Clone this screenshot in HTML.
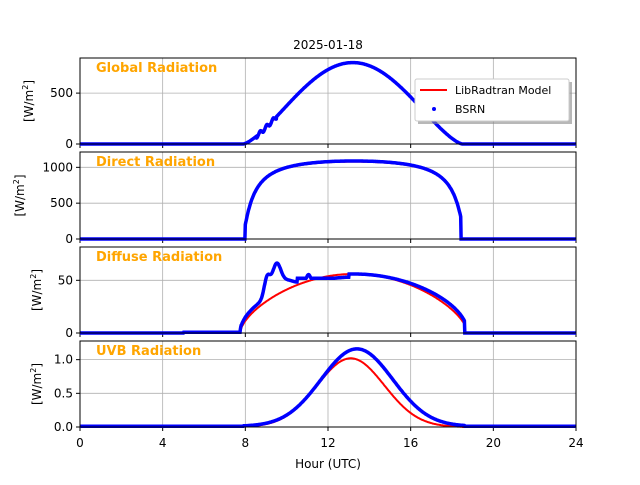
<!DOCTYPE html>
<html><head><meta charset="utf-8"><style>
body{margin:0;background:#fff}
svg{font-family:"DejaVu Sans","Liberation Sans",sans-serif}
</style></head><body>
<svg id="s" width="640" height="480" xmlns="http://www.w3.org/2000/svg">
<text x="328" y="49" font-size="12" text-anchor="middle">2025-01-18</text>
<g id="g"></g>
<g>
<rect x="418" y="82" width="154" height="42" fill="#888" opacity="0.6"/>
<rect x="415" y="79" width="154" height="42" fill="#fff" stroke="#ccc" rx="2"/>
<line x1="420" y1="90" x2="447" y2="90" stroke="red" stroke-width="2"/>
<text x="455" y="94" font-size="11">LibRadtran Model</text>
<circle cx="434" cy="109" r="2" fill="blue"/>
<text x="455" y="113" font-size="11">BSRN</text>
</g>
</svg>
<script>
var X0=80,X1=576,g=document.getElementById('g'),h='';
function px(t){return X0+(X1-X0)*t/24;}
function s(t){var v=Math.sin(Math.PI*(t-7.9)/10.6);return (t<7.9||t>18.5)?0:Math.max(0,v);}
function q2(t){return (t<7.75||t>18.75)?0:Math.sin(Math.PI*(t-7.75)/11);}
var P=[
 {top:58,bot:144,max:845,ticks:[0,500],lab:['0','500'],title:'Global Radiation',
  m:function(t){return 800*Math.pow(s(t),1.4);},
  b:function(t){var v=800*Math.pow(s(t),1.4);if(t>8.5&&t<9.5)v-=20*Math.sin(t*20);return v;}},
 {top:152,bot:239,max:1214,ticks:[0,500,1000],lab:['0','500','1000'],title:'Direct Radiation',
  m:function(t){var q=q2(t);return (t<7.98||t>18.42||q<=0)?0:1230*Math.exp(-0.13/q);},
  b:function(t){var q=q2(t);return (t<7.98||t>18.42||q<=0)?0:1240*Math.exp(-0.13/q);}},
 {top:247,bot:333,max:81.6,ticks:[0,50],lab:['0','50'],title:'Diffuse Radiation',
  m:function(t){return 56*Math.pow(q2(t),0.6)*(t>18.6?0:1);},
  b:function(t){var q=q2(t);var v=56*Math.pow(q,0.5)*(t>18.6?0:1);
   if(t>8.4&&t<11.5)v+=26*Math.exp(-Math.pow((t-9.5)/0.3,2))+18*Math.exp(-Math.pow((t-9.05)/0.2,2))+8*Math.exp(-Math.pow((t-11.05)/0.15,2))+6*Math.exp(-Math.pow((t-10)/0.4,2));
   if(t>10.5&&t<13)v=Math.max(v-3,52);
   if(t<7.8&&t>5)v+=0.8;return v;}},
 {top:341,bot:427,max:1.277,ticks:[0,0.5,1.0],lab:['0.0','0.5','1.0'],title:'UVB Radiation',
  m:function(t){return 1.02*Math.exp(-Math.pow((t-13.1)/2.3,2))*(t>7.9&&t<18.5?1:0);},
  b:function(t){return 1.15*Math.exp(-Math.pow((t-13.4)/2.45,2))*(t>7.9&&t<18.6?1:0)+0.01;}}
];
P.forEach(function(p,i){
 function py(v){return p.bot-(p.bot-p.top)*v/p.max;}
 for(var k=4;k<24;k+=4)h+='<line x1="'+px(k)+'" y1="'+p.top+'" x2="'+px(k)+'" y2="'+p.bot+'" stroke="#b0b0b0" stroke-width="0.8"/>';
 p.ticks.forEach(function(v,j){var y=py(v);
  if(j>0)h+='<line x1="'+X0+'" y1="'+y+'" x2="'+X1+'" y2="'+y+'" stroke="#b0b0b0" stroke-width="0.8"/>';
  h+='<line x1="'+(X0-4)+'" y1="'+y+'" x2="'+X0+'" y2="'+y+'" stroke="#000"/>';
  h+='<text x="'+(X0-7)+'" y="'+(y+4)+'" font-size="12" text-anchor="end">'+p.lab[j]+'</text>';});
 for(var k=0;k<=24;k+=4)h+='<line x1="'+px(k)+'" y1="'+p.bot+'" x2="'+px(k)+'" y2="'+(p.bot+4)+'" stroke="#000"/>';
 var a='',b='';
 for(var t=0;t<=24.001;t+=0.02){a+=(a?'L':'M')+px(t).toFixed(1)+' '+py(p.m(t)).toFixed(1);b+=(b?'L':'M')+px(t).toFixed(1)+' '+py(p.b(t)).toFixed(1);}
 h+='<path d="'+a+'" fill="none" stroke="red" stroke-width="2"/>';
 h+='<path d="'+b+'" fill="none" stroke="blue" stroke-width="3.5"/>';
 h+='<rect x="'+X0+'" y="'+p.top+'" width="'+(X1-X0)+'" height="'+(p.bot-p.top)+'" fill="none" stroke="#000"/>';
 h+='<text x="96" y="'+(p.top+14)+'" font-size="13" font-weight="bold" fill="orange">'+p.title+'</text>';
 var yl=(p.top+p.bot)/2, xl=[33,24,41,41][i];
 h+='<text transform="translate('+xl+','+yl+') rotate(-90)" font-size="12" text-anchor="middle">[W/m<tspan dy="-5" font-size="8">2</tspan><tspan dy="5">]</tspan></text>';
});
for(var k=0;k<=24;k+=4)h+='<text x="'+px(k)+' " y="447" font-size="12" text-anchor="middle">'+k+'</text>';
h+='<text x="328" y="468" font-size="12" text-anchor="middle">Hour (UTC)</text>';
g.innerHTML=h;
</script>
</body></html>
